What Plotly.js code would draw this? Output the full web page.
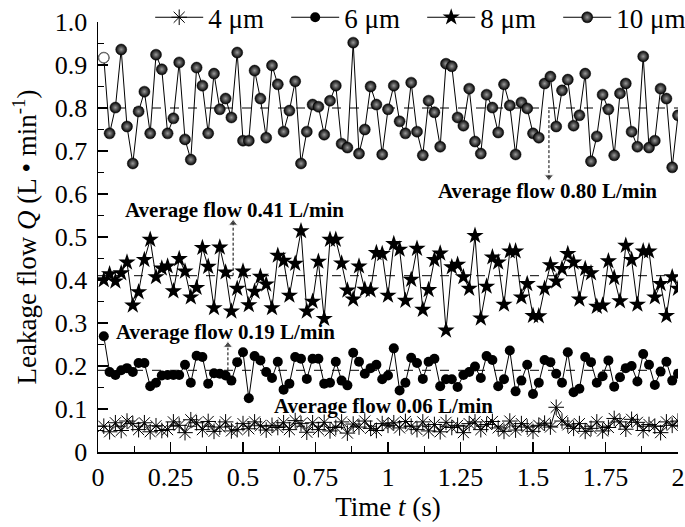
<!DOCTYPE html>
<html>
<head>
<meta charset="utf-8">
<script src="https://cdn.plot.ly/plotly-3.0.1.min.js"></script>
<style>
  body { margin: 0; background: #fff; }
  #myDiv { width: 685px; height: 527px; }
</style>
</head>
<body>
<div id="myDiv"></div>
<script>
// time axis (s), one sample every 0.02 s
const time = [
  0.02, 0.04, 0.06, 0.08, 0.10, 0.12, 0.14, 0.16, 0.18, 0.20,
  0.22, 0.24, 0.26, 0.28, 0.30, 0.32, 0.34, 0.36, 0.38, 0.40,
  0.42, 0.44, 0.46, 0.48, 0.50, 0.52, 0.54, 0.56, 0.58, 0.60,
  0.62, 0.64, 0.66, 0.68, 0.70, 0.72, 0.74, 0.76, 0.78, 0.80,
  0.82, 0.84, 0.86, 0.88, 0.90, 0.92, 0.94, 0.96, 0.98, 1.00,
  1.02, 1.04, 1.06, 1.08, 1.10, 1.12, 1.14, 1.16, 1.18, 1.20,
  1.22, 1.24, 1.26, 1.28, 1.30, 1.32, 1.34, 1.36, 1.38, 1.40,
  1.42, 1.44, 1.46, 1.48, 1.50, 1.52, 1.54, 1.56, 1.58, 1.60,
  1.62, 1.64, 1.66, 1.68, 1.70, 1.72, 1.74, 1.76, 1.78, 1.80,
  1.82, 1.84, 1.86, 1.88, 1.90, 1.92, 1.94, 1.96, 1.98, 2.00
];

// leakage flow Q (L/min) per gap width
const flow4 = [
  0.060, 0.047, 0.068, 0.050, 0.072, 0.066, 0.052, 0.068, 0.047, 0.061,
  0.050, 0.052, 0.070, 0.062, 0.045, 0.075, 0.068, 0.052, 0.071, 0.048,
  0.058, 0.070, 0.049, 0.052, 0.066, 0.054, 0.070, 0.061, 0.051, 0.062,
  0.057, 0.068, 0.052, 0.073, 0.066, 0.046, 0.068, 0.052, 0.069, 0.049,
  0.057, 0.070, 0.044, 0.065, 0.058, 0.072, 0.055, 0.050, 0.066, 0.062,
  0.068, 0.056, 0.071, 0.060, 0.052, 0.070, 0.049, 0.064, 0.047, 0.069,
  0.057, 0.062, 0.045, 0.066, 0.070, 0.052, 0.064, 0.071, 0.056, 0.048,
  0.072, 0.051, 0.066, 0.058, 0.048, 0.062, 0.067, 0.058, 0.104, 0.072,
  0.063, 0.055, 0.066, 0.048, 0.055, 0.070, 0.049, 0.057, 0.078, 0.070,
  0.053, 0.076, 0.069, 0.050, 0.064, 0.060, 0.045, 0.070, 0.062, 0.072
];

const flow6 = [
  0.269, 0.186, 0.179, 0.190, 0.195, 0.186, 0.207, 0.207, 0.153, 0.161,
  0.178, 0.179, 0.179, 0.179, 0.203, 0.161, 0.224, 0.221, 0.159, 0.183,
  0.182, 0.178, 0.166, 0.209, 0.232, 0.125, 0.223, 0.213, 0.186, 0.172,
  0.210, 0.145, 0.159, 0.221, 0.217, 0.170, 0.217, 0.217, 0.159, 0.161,
  0.210, 0.166, 0.155, 0.231, 0.210, 0.182, 0.195, 0.203, 0.169, 0.178,
  0.241, 0.143, 0.161, 0.219, 0.207, 0.170, 0.210, 0.217, 0.153, 0.169,
  0.169, 0.151, 0.179, 0.186, 0.199, 0.172, 0.223, 0.214, 0.153, 0.169,
  0.236, 0.141, 0.166, 0.203, 0.135, 0.161, 0.214, 0.209, 0.182, 0.161,
  0.232, 0.139, 0.147, 0.221, 0.209, 0.161, 0.176, 0.213, 0.152, 0.174,
  0.195, 0.200, 0.164, 0.228, 0.203, 0.156, 0.187, 0.210, 0.166, 0.182
];

const flow8 = [
  0.400, 0.414, 0.397, 0.416, 0.441, 0.341, 0.372, 0.447, 0.494, 0.407,
  0.427, 0.432, 0.374, 0.449, 0.420, 0.360, 0.382, 0.475, 0.431, 0.335,
  0.476, 0.418, 0.327, 0.380, 0.420, 0.342, 0.373, 0.408, 0.390, 0.335,
  0.457, 0.445, 0.364, 0.438, 0.514, 0.327, 0.350, 0.443, 0.310, 0.494,
  0.494, 0.439, 0.376, 0.355, 0.432, 0.378, 0.376, 0.463, 0.461, 0.364,
  0.484, 0.471, 0.352, 0.401, 0.473, 0.331, 0.377, 0.447, 0.462, 0.283,
  0.430, 0.436, 0.407, 0.380, 0.503, 0.311, 0.385, 0.453, 0.441, 0.343,
  0.467, 0.467, 0.360, 0.391, 0.317, 0.316, 0.380, 0.435, 0.397, 0.426,
  0.461, 0.441, 0.355, 0.426, 0.416, 0.338, 0.341, 0.444, 0.405, 0.351,
  0.480, 0.447, 0.343, 0.467, 0.467, 0.360, 0.391, 0.317, 0.407, 0.380
];

const flow10 = [
  0.917, 0.741, 0.801, 0.936, 0.757, 0.671, 0.792, 0.838, 0.741, 0.924,
  0.890, 0.741, 0.776, 0.906, 0.727, 0.680, 0.894, 0.852, 0.741, 0.880,
  0.797, 0.822, 0.778, 0.929, 0.724, 0.724, 0.887, 0.822, 0.731, 0.899,
  0.855, 0.745, 0.794, 0.862, 0.671, 0.745, 0.808, 0.803, 0.738, 0.817,
  0.852, 0.717, 0.708, 0.952, 0.694, 0.750, 0.850, 0.808, 0.692, 0.797,
  0.852, 0.769, 0.741, 0.859, 0.745, 0.690, 0.817, 0.790, 0.710, 0.903,
  0.897, 0.778, 0.759, 0.845, 0.722, 0.694, 0.831, 0.801, 0.743, 0.855,
  0.806, 0.692, 0.813, 0.799, 0.741, 0.731, 0.857, 0.873, 0.757, 0.841,
  0.866, 0.759, 0.783, 0.880, 0.676, 0.734, 0.831, 0.797, 0.690, 0.834,
  0.857, 0.745, 0.710, 0.920, 0.708, 0.724, 0.845, 0.822, 0.662, 0.783
];

const seriesNames = ["4 μm", "6 μm", "8 μm", "10 μm"];
const averages = [0.06, 0.19, 0.41, 0.80];
const avgLabels = [
  "Average flow 0.06 L/min",
  "Average flow 0.19 L/min",
  "Average flow 0.41 L/min",
  "Average flow 0.80 L/min"
];
// label anchor [x, y] and arrow [x, yStart, yEnd] for each average
const labelPos = [[0.985, 0.106], [0.44, 0.278], [0.472, 0.563], [1.55, 0.607]];
const arrowPos = [null, [0.448, 0.19, 0.248], [0.466, 0.41, 0.532], [1.555, 0.795, 0.64]];

const xTicks = [0, 0.25, 0.5, 0.75, 1, 1.25, 1.5, 1.75, 2];
const xTickText = ["0", "0.25", "0.5", "0.75", "1", "1.25", "1.5", "1.75", "2"];
const xMinor = [0.125, 0.375, 0.625, 0.875, 1.125, 1.375, 1.625, 1.875];
const yTicks = [0, 0.1, 0.2, 0.3, 0.4, 0.5, 0.6, 0.7, 0.8, 0.9, 1.0];
const yTickText = ["0", "0.1", "0.2", "0.3", "0.4", "0.5", "0.6", "0.7", "0.8", "0.9", "1.0"];
const yMinor = [0.05, 0.15, 0.25, 0.35, 0.45, 0.55, 0.65, 0.75, 0.85, 0.95];

const serif = "Liberation Serif, Times New Roman, serif";

function makeChart() {
  let data = [];

  // dashed average lines
  averages.forEach(avg => {
    data.push({
      x: [0, 2],
      y: [avg, avg],
      mode: "lines",
      type: "scatter",
      line: { color: "#000", width: 1, dash: "dash" },
      showlegend: false,
      hoverinfo: "skip"
    });
  });

  // dashed arrows towards the labels
  arrowPos.forEach(a => {
    if (!a) return;
    let up = a[2] > a[1];
    data.push({
      x: [a[0], a[0]],
      y: [a[1], a[2]],
      mode: "lines+markers",
      type: "scatter",
      line: { color: "#000", width: 1, dash: "3px,2px" },
      marker: {
        symbol: ["circle", up ? "triangle-up" : "triangle-down"],
        size: [0, 8],
        color: "#000"
      },
      showlegend: false,
      hoverinfo: "skip"
    });
  });

  data.push({
    x: time, y: flow4, name: seriesNames[0],
    mode: "lines+markers", type: "scatter",
    line: { color: "#000", width: 1 },
    marker: { symbol: "asterisk-open", size: 13, color: "#000", line: { color: "#000", width: 1 } }
  });

  data.push({
    x: time, y: flow6, name: seriesNames[1],
    mode: "lines+markers", type: "scatter",
    line: { color: "#000", width: 1 },
    marker: { symbol: "circle", size: 10, color: "#000" }
  });

  data.push({
    x: time, y: flow8, name: seriesNames[2],
    mode: "lines+markers", type: "scatter",
    line: { color: "#000", width: 1 },
    marker: { symbol: "star", size: 13, color: "#000" }
  });

  data.push({
    x: time, y: flow10, name: seriesNames[3],
    mode: "lines+markers", type: "scatter",
    line: { color: "#000", width: 1 },
    marker: {
      symbol: "circle", size: 11, color: "#000",
      gradient: { type: "radial", color: "#999" },
      line: { color: "#000", width: 0.5 }
    }
  });

  // first 10 um sample is drawn as an open circle
  data.push({
    x: [time[0]], y: [flow10[0]],
    mode: "markers", type: "scatter",
    marker: { symbol: "circle", size: 10, color: "#fff", line: { color: "#777", width: 1 } },
    showlegend: false,
    hoverinfo: "skip"
  });

  let annotations = avgLabels.map((txt, i) => ({
    x: labelPos[i][0],
    y: labelPos[i][1],
    xref: "x",
    yref: "y",
    text: "<b>" + txt + "</b>",
    showarrow: false,
    font: { family: serif, size: 21, color: "#000" }
  }));

  let layout = {
    width: 685,
    height: 527,
    margin: { l: 98, r: 7, t: 22, b: 75, autoexpand: false },
    paper_bgcolor: "#fff",
    plot_bgcolor: "#fff",
    font: { family: serif, size: 26, color: "#000" },
    showlegend: true,
    legend: {
      orientation: "h",
      x: 0.09,
      xanchor: "left",
      y: 1.01,
      yanchor: "middle",
      bgcolor: "rgba(0,0,0,0)",
      font: { family: serif, size: 27, color: "#000" },
      itemwidth: 48,
      entrywidth: 73,
      tracegroupgap: 0
    },
    xaxis: {
      range: [0, 2],
      tickvals: xTicks,
      ticktext: xTickText,
      ticks: "inside",
      ticklen: 10,
      tickwidth: 1.2,
      tickcolor: "#000",
      minor: { tickvals: xMinor, ticks: "inside", ticklen: 6, tickwidth: 1.2, tickcolor: "#000" },
      showline: true,
      linewidth: 1.5,
      linecolor: "#000",
      showgrid: false,
      zeroline: false,
      ticklabelstandoff: 1,
      tickfont: { family: serif, size: 26 },
      title: { text: "Time <i>t</i> (s)", font: { family: serif, size: 27 }, standoff: 0 }
    },
    yaxis: {
      range: [0, 1.0],
      tickvals: yTicks,
      ticktext: yTickText,
      ticks: "inside",
      ticklen: 10,
      tickwidth: 1.2,
      tickcolor: "#000",
      minor: { tickvals: yMinor, ticks: "inside", ticklen: 6, tickwidth: 1.2, tickcolor: "#000" },
      showline: true,
      linewidth: 1.5,
      linecolor: "#000",
      showgrid: false,
      zeroline: false,
      ticklabelstandoff: 4,
      tickfont: { family: serif, size: 26 },
      title: { text: "Leakage flow <i>Q</i> (L • min<sup>-1</sup>)", font: { family: serif, size: 27 }, standoff: 10 }
    },
    annotations: annotations
  };

  Plotly.newPlot("myDiv", data, layout, { displayModeBar: false, staticPlot: true });
}

makeChart();
</script>
</body>
</html>
